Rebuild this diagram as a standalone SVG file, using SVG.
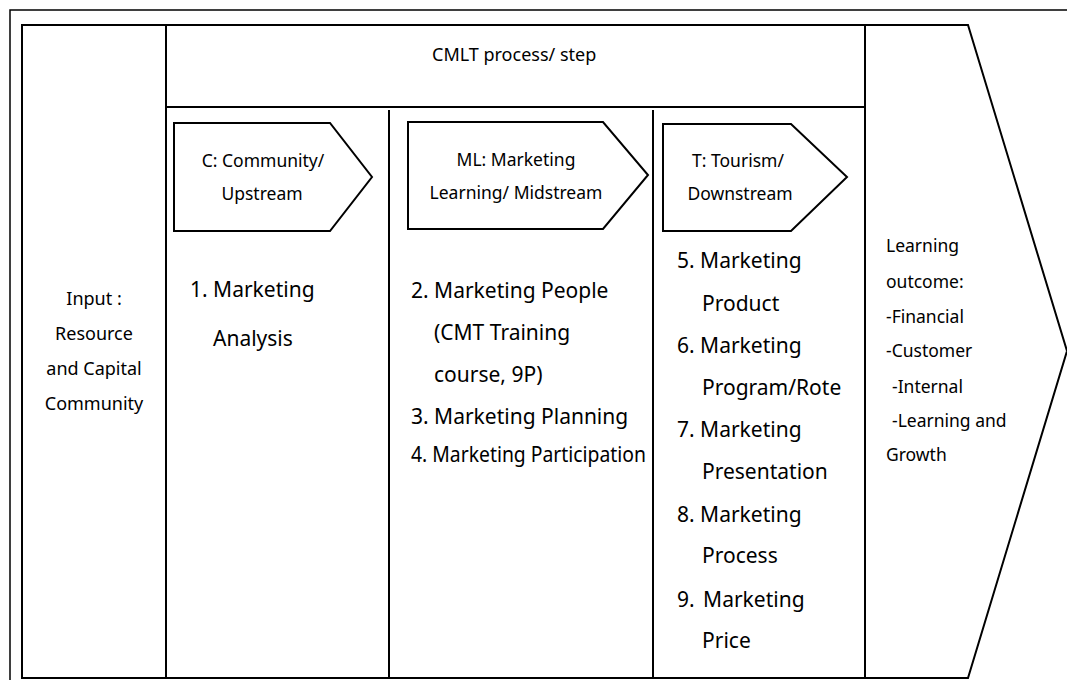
<svg xmlns="http://www.w3.org/2000/svg" width="1067" height="680" viewBox="0 0 1067 680">
<style>
.ln{fill:none;stroke:#000;stroke-width:2}
.shape{fill:#fff;stroke:#000;stroke-width:2;stroke-linejoin:miter}
text{font-family:"Noto Sans","Open Sans","DejaVu Sans",sans-serif;fill:#000}
.hd{font-size:18px}
.pt{font-size:17.5px;text-anchor:middle}
.inp{font-size:18px;text-anchor:middle}
.li{font-size:21px}
.out{font-size:17.5px}
</style>
<rect width="1067" height="680" fill="#fff"/>
<rect x="10" y="10" width="1080" height="700" fill="none" stroke="#000" stroke-width="1.5"/>

<g id="frame">
<polygon class="shape" points="22,25 968,25 1067,351 968,678 22,678"/>
<line class="ln" x1="166" y1="25" x2="166" y2="678"/>
<line class="ln" x1="166" y1="107" x2="865" y2="107"/>
<line class="ln" x1="865" y1="25" x2="865" y2="678"/>
<line class="ln" x1="389" y1="110" x2="389" y2="678"/>
<line class="ln" x1="653" y1="110" x2="653" y2="678"/>
</g>

<g id="header">
<text class="hd" x="432" y="61">CMLT process/ step</text>
</g>

<g id="input">
<text class="inp" x="94" y="305">Input :</text>
<text class="inp" x="94" y="340">Resource</text>
<text class="inp" x="94" y="375">and Capital</text>
<text class="inp" x="94" y="410">Community</text>
</g>

<g id="step-c">
<polygon class="shape" points="174,123 330,123 372,177 330,231 174,231"/>
<text class="pt" x="263" y="167">C: Community/</text>
<text class="pt" x="262" y="200">Upstream</text>
</g>

<g id="step-ml">
<polygon class="shape" points="408,122 603,122 648,175 603,229 408,229"/>
<text class="pt" x="516" y="166">ML: Marketing</text>
<text class="pt" x="516" y="199">Learning/ Midstream</text>
</g>

<g id="step-t">
<polygon class="shape" points="663,124 791,124 847,177 791,231 663,231"/>
<text class="pt" x="738" y="167">T: Tourism/</text>
<text class="pt" x="740" y="200">Downstream</text>
</g>

<g id="list-c">
<text class="li" x="190" y="297">1. Marketing</text>
<text class="li" x="213" y="346">Analysis</text>
</g>

<g id="list-ml">
<text class="li" x="411" y="298">2. Marketing People</text>
<text class="li" x="434" y="340">(CMT Training</text>
<text class="li" x="434" y="382">course, 9P)</text>
<text class="li" x="411" y="424">3. Marketing Planning</text>
<text class="li" x="411" y="462" textLength="235" lengthAdjust="spacingAndGlyphs">4. Marketing Participation</text>
</g>

<g id="list-t">
<text class="li" x="677" y="268">5. Marketing</text>
<text class="li" x="702" y="311">Product</text>
<text class="li" x="677" y="353">6. Marketing</text>
<text class="li" x="702" y="395">Program/Rote</text>
<text class="li" x="677" y="437">7. Marketing</text>
<text class="li" x="702" y="479">Presentation</text>
<text class="li" x="677" y="522">8. Marketing</text>
<text class="li" x="702" y="563">Process</text>
<text class="li" x="677" y="607">9. <tspan dx="3">Marketing</tspan></text>
<text class="li" x="702" y="648">Price</text>
</g>

<g id="outcome">
<text class="out" x="886" y="252">Learning</text>
<text class="out" x="886" y="288">outcome:</text>
<text class="out" x="886" y="323">-Financial</text>
<text class="out" x="886" y="357">-Customer</text>
<text class="out" x="892" y="393">-Internal</text>
<text class="out" x="892" y="427">-Learning and</text>
<text class="out" x="886" y="461">Growth</text>
</g>

<g id="connectors"></g>
</svg>
